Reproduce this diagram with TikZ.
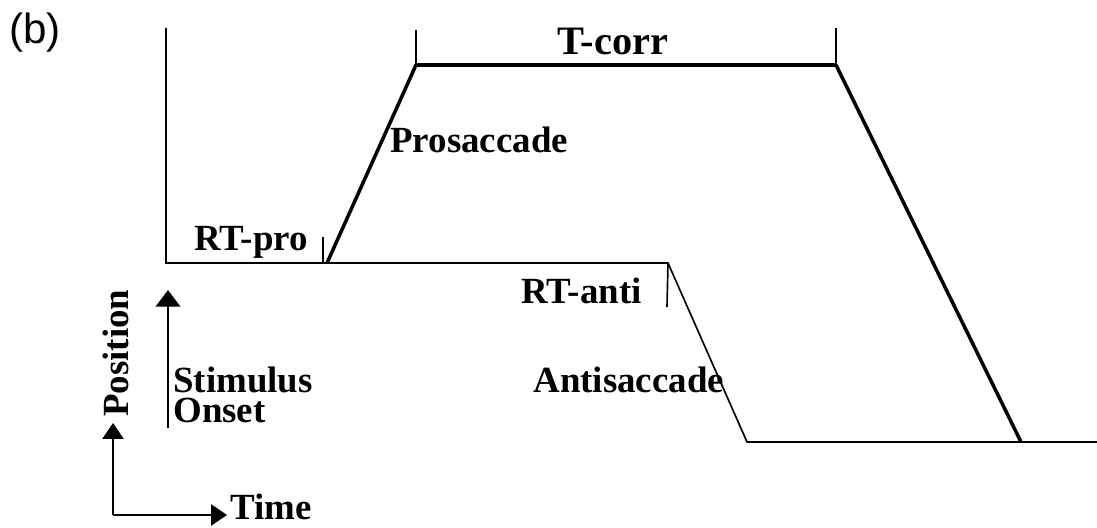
\documentclass[tikz,border=0pt]{standalone}
\usepackage{fontspec}
\setmainfont{Liberation Serif}
\newfontfamily\panelfont{Liberation Sans}
\usetikzlibrary{arrows.meta}

\begin{document}
\begin{tikzpicture}[x=0.02cm,y=-0.02cm,
  thintrace/.style={line width=0.95pt},
  thicktrace/.style={line width=2pt,line join=round},
  lbl/.style={font=\bfseries\fontsize{21}{17}\selectfont,inner sep=0pt},
  bigtip/.style={-{Triangle[width=14pt,length=9.5pt]}},
  axistip/.style={-{Triangle[width=12pt,length=9pt]}}]
\useasboundingbox (0,0) rectangle (1097,527);
\coordinate (top) at (166,28);
\coordinate (orig) at (166,263);
\coordinate (proStart) at (327,263);
\coordinate (proEnd) at (416,65);
\coordinate (corrEnd) at (836,65);
\coordinate (back) at (1021,442);
\coordinate (antiStart) at (668,263);
\coordinate (antiEnd) at (747,442);
\coordinate (rightEnd) at (1097,442);
\draw[thintrace] (top) -- (orig) -- (antiStart) -- (antiEnd) -- (rightEnd);
\draw[thicktrace] (proStart) -- (proEnd) -- (corrEnd) -- (back);
\coordinate (corrL) at (416,30);
\coordinate (corrR) at (836,28);
\draw[thintrace] (corrL) -- (proEnd);
\draw[thintrace] (corrR) -- (corrEnd);
\coordinate (proTickTop) at (323,237);
\coordinate (proTickBot) at (323,263);
\draw[thintrace] (proTickTop) -- (proTickBot);
\coordinate (antiTickBot) at (667,307);
\draw[thintrace] (antiStart) -- (antiTickBot);
\coordinate (stimFoot) at (168,428);
\coordinate (stimTip) at (168,290);
\draw[thintrace,bigtip] (stimFoot) -- (stimTip);
\coordinate (axO) at (113,515);
\coordinate (axY) at (113,423);
\coordinate (axX) at (227,515);
\draw[thintrace,axistip] (axO) -- (axY);
\draw[thintrace,axistip] (axO) -- (axX);
\node[anchor=base west,inner sep=0pt,font=\panelfont\fontsize{24}{26}\selectfont] (panel) at (9,44) {(b)};
\node[lbl,anchor=base,font=\bfseries\fontsize{23}{26}\selectfont] (tcorr) at (613,55) {T-corr};
\node[lbl,anchor=base west] (prosacc) at (390,152) {Prosaccade};
\node[lbl,anchor=base west] (rtpro) at (194,250) {RT-pro};
\node[lbl,anchor=base east] (rtanti) at (642,303) {RT-anti};
\node[lbl,anchor=base west] (antisacc) at (533,392) {Antisaccade};
\node[lbl,anchor=base west,align=left] (stim) at (173,422) {Stimulus\\Onset};
\node[lbl,anchor=base west,rotate=90] (pos) at (128,417) {Position};
\node[lbl,anchor=base west] (time) at (230,519) {Time};
\end{tikzpicture}
\end{document}
